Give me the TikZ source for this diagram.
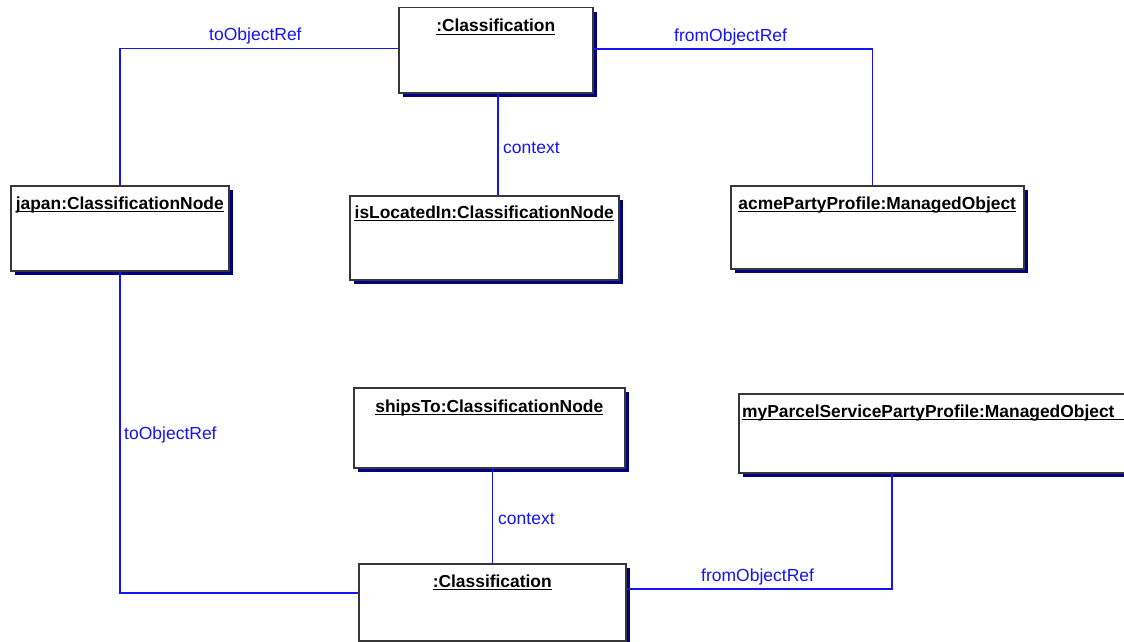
\documentclass[tikz,border=0pt]{standalone}
\usepackage{fontspec}
\setmainfont{Liberation Sans}
\usetikzlibrary{shadows}
\definecolor{linkblue}{RGB}{20,20,245}
\definecolor{shadownavy}{RGB}{0,0,128}
\definecolor{boxgray}{RGB}{55,55,55}
\begin{document}
\begin{tikzpicture}[x=1pt,y=-1pt,
  objbox/.style={draw=boxgray, line width=1.5pt, fill=white, inner sep=0pt,
    anchor=north west,
    drop shadow={shadow xshift=4pt, shadow yshift=-4pt, fill=shadownavy, opacity=1}},
  objtitle/.style={inner sep=0pt, font=\fontsize{17.4}{20}\selectfont\bfseries, text=black},
  uline/.style={draw=black, line width=1.2pt},
  link/.style={draw=linkblue, line width=1.5pt},
  linklabel/.style={inner sep=0pt, anchor=base west, text=linkblue,
    font=\fontsize{17.5}{20}\selectfont}]
\useasboundingbox[fill=white] (0,0) rectangle (1124,642);
\clip (0,0) rectangle (1124,642);

% object boxes
\node[objbox, minimum width=194pt, minimum height=85pt] (cls1)   at (398,7)   {};
\node[objbox, minimum width=218pt, minimum height=85pt] (japan)  at (10,185)  {};
\node[objbox, minimum width=269pt, minimum height=84pt] (isloc)  at (349,195) {};
\node[objbox, minimum width=293pt, minimum height=83pt] (acme)   at (730,185) {};
\node[objbox, minimum width=271pt, minimum height=80pt] (ships)  at (353,387) {};
\node[objbox, minimum width=267pt, minimum height=77pt] (cls2)   at (358,563) {};
\node[objbox, minimum width=400pt, minimum height=79pt] (parcel) at (738,393) {};

% object names, underlined
\node[objtitle, anchor=base] (t1) at ([yshift=-25pt]cls1.north) {:Classification\ };
\node[objtitle, anchor=base] (t2) at ([yshift=-24pt]japan.north) {japan:ClassificationNode\ };
\node[objtitle, anchor=base] (t3) at ([yshift=-23pt]isloc.north) {isLocatedIn:ClassificationNode\ };
\node[objtitle, anchor=base] (t4) at ([yshift=-24pt]acme.north) {acmePartyProfile:ManagedObject\ };
\node[objtitle, anchor=base] (t5) at ([yshift=-25pt]ships.north) {shipsTo:ClassificationNode\ };
\node[objtitle, anchor=base] (t6) at ([yshift=-24pt]cls2.north) {:Classification\ };
\node[objtitle, anchor=base west] (t7) at (742,417) {myParcelServicePartyProfile:ManagedObject\ };
\foreach \t in {t1,t2,t3,t4,t5,t6}
  \draw[uline] ([yshift=-2.5pt]\t.base west) -- ([yshift=-2.5pt]\t.base east);
\draw[uline] ([yshift=-2.5pt]t7.base west) -- ([yshift=-2.5pt,xshift=12pt]t7.base east);

% links
\coordinate (acmeIn)   at ([xshift=-5pt]acme.north);
\coordinate (parcelIn) at ([xshift=-47pt]parcel.south);
\coordinate (cls2W)    at ([yshift=9.5pt]cls2.west);
\coordinate (cls2E)    at ([yshift=13.5pt]cls2.east);
\draw[link] ([yshift=1.5pt]cls1.west) -| (japan.north);
\draw[link] ([yshift=1pt]cls1.east) -| (acmeIn);
\draw[link] ([xshift=2pt]cls1.south) -- ([xshift=2pt]cls1.south |- isloc.north);
\draw[link] (japan.south) |- (cls2W);
\draw[link] (cls2.north) -- (cls2.north |- ships.south);
\draw[link] (cls2E) -| (parcelIn);

% link labels
\node[linklabel] (l1) at (209,41)  {toObjectRef};
\node[linklabel] (l2) at (674,42)  {fromObjectRef};
\node[linklabel] (l3) at (503,153) {context};
\node[linklabel] (l4) at (124,439) {toObjectRef};
\node[linklabel] (l5) at (498,524) {context};
\node[linklabel] (l6) at (701,581) {fromObjectRef};
\end{tikzpicture}
\end{document}
